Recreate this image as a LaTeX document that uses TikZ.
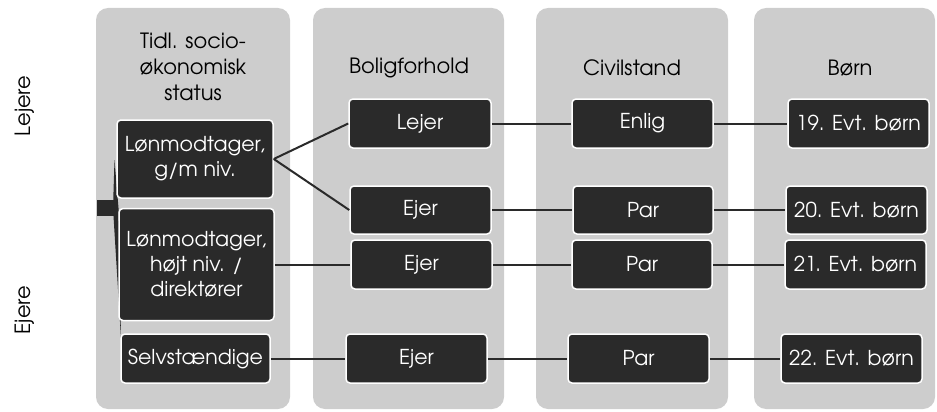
\documentclass[tikz,border=0pt]{standalone}
\usepackage{fontspec}
\setmainfont{TeX Gyre Adventor}
\usetikzlibrary{positioning}

\definecolor{colgray}{HTML}{CDCDCD}
\definecolor{boxdark}{HTML}{2A2A2A}

\begin{document}
\begin{tikzpicture}[x=1pt, y=-1pt,
col/.style={fill=colgray, rounded corners=12pt},
box/.style={draw=white, line width=1.5pt, fill=boxdark, rounded corners=4pt,
  text=white, font=\fontsize{20.5}{25}\selectfont, align=center, inner sep=0pt},
head/.style={font=\fontsize{21}{26}\selectfont, align=center, text=black},
side/.style={font=\fontsize{21}{24}\selectfont, rotate=90},
link/.style={draw=boxdark, line width=2pt}]
\useasboundingbox (0,0) rectangle (937,412);

% columns
\fill[col] (96,8) rectangle (290,409);
\fill[col] (313,8) rectangle (504,409);
\fill[col] (536,8) rectangle (728,409);
\fill[col] (754,8) rectangle (935,409);

\node[head] (h1) at (193,67) {Tidl. socio-\\økonomisk\\status};
\node[head] (h2) at (409,68) {Boligforhold};
\node[head] (h3) at (632,68) {Civilstand};
\node[head] (h4) at (850,68) {Børn};

\node[side] (lej) at (25,106) {Lejere};
\node[side] (ej) at (25,310) {Ejere};

% bracket
\fill[boxdark] (97,200) rectangle (114,216);
\fill[boxdark] (114.5,160) -- (118.5,208) -- (121,338) -- (113,208) -- cycle;

% status
\node[box, minimum width=156, minimum height=78] (lgm) at (195,159) {Lønmodtager,\\g/m niv.};
\node[box, minimum width=155, minimum height=112] (lhoj) at (196.5,264.5) {Lønmodtager,\\højt niv. /\\direktører};
\node[box, minimum width=149, minimum height=49] (selv) at (195.5,358.5) {Selvstændige};

% bolig
\node[box, minimum width=142, minimum height=49] (lejer) at (420,123.5) {Lejer};
\node[box, minimum width=141, minimum height=48] (ejerA) at (420.5,210) {Ejer};
\node[box, minimum width=141, minimum height=49] (ejerB) at (421.5,264.5) {Ejer};
\node[box, minimum width=141, minimum height=49] (ejerC) at (416.5,358.5) {Ejer};

% civilstand
\node[box, minimum width=141, minimum height=49] (enlig) at (642.5,123.5) {Enlig};
\node[box, minimum width=140, minimum height=48] (parA) at (643,210) {Par};
\node[box, minimum width=140, minimum height=49] (parB) at (642,264.5) {Par};
\node[box, minimum width=141, minimum height=49] (parC) at (638.5,358.5) {Par};

% boern
\node[box, minimum width=141, minimum height=49] (b19) at (858.5,123.5) {19. Evt. børn};
\node[box, minimum width=141, minimum height=48] (b20) at (856.5,210) {20. Evt. børn};
\node[box, minimum width=141, minimum height=49] (b21) at (855.5,264.5) {21. Evt. børn};
\node[box, minimum width=141, minimum height=49] (b22) at (851.5,358.5) {22. Evt. børn};

\draw[link] (lgm.east) -- (lejer.west);
\draw[link] (lgm.east) -- (ejerA.west);
\draw[link] (lhoj.east) -- (ejerB.west);
\draw[link] (selv.east) -- (ejerC.west);
\draw[link] (lejer) -- (enlig);
\draw[link] (ejerA) -- (parA);
\draw[link] (ejerB) -- (parB);
\draw[link] (ejerC) -- (parC);
\draw[link] (enlig) -- (b19);
\draw[link] (parA) -- (b20);
\draw[link] (parB) -- (b21);
\draw[link] (parC) -- (b22);
\end{tikzpicture}
\end{document}
